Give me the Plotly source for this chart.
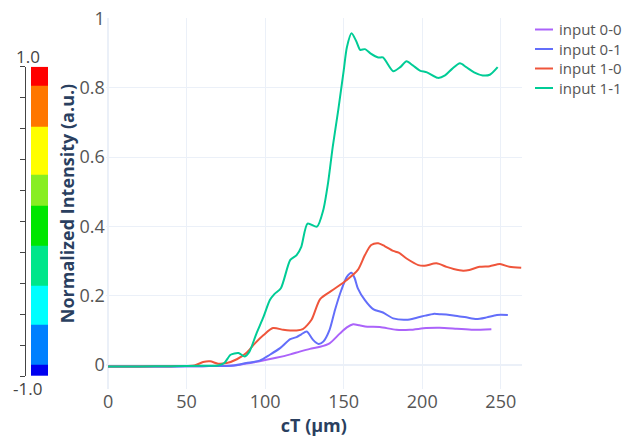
import plotly.graph_objects as go

# ---------------- data ----------------
series_names = ["input 0-0", "input 0-1", "input 1-0", "input 1-1"]
series_colors = ["#ab63fa", "#636efa", "#EF553B", "#00cc96"]

x_00 = [0, 20, 40, 60, 80, 86, 96.5, 107, 116, 122, 128.5, 135, 141, 147.5, 152, 156, 160, 165,
        173, 183.5, 192, 202.5, 211, 222, 232.5, 244]
y_00 = [-0.005, -0.005, -0.005, -0.004, -0.002, 0.002, 0.01, 0.02, 0.03, 0.038, 0.046, 0.052, 0.062,
        0.09, 0.108, 0.117, 0.114, 0.11, 0.109, 0.101, 0.101, 0.106, 0.107, 0.104, 0.101, 0.103]

x_01 = [0, 20, 40, 60, 80, 88, 96.5, 103, 109.5, 116, 120, 123, 126.5, 130.5, 134, 137, 141, 144.5,
        148.5, 152, 155, 157, 159, 163.5, 169, 175, 181.5, 190, 196.5, 202, 207, 212, 217.5, 223,
        228, 234.5, 241, 247.5, 254.5]
y_01 = [-0.005, -0.005, -0.005, -0.004, -0.002, 0.005, 0.012, 0.029, 0.048, 0.074, 0.08, 0.088, 0.096,
        0.072, 0.06, 0.067, 0.101, 0.159, 0.216, 0.254, 0.266, 0.25, 0.221, 0.187, 0.16, 0.151,
        0.134, 0.13, 0.136, 0.142, 0.147, 0.146, 0.144, 0.14, 0.137, 0.132, 0.137, 0.144, 0.144]

x_10 = [0, 20, 40, 55, 60.5, 65, 70, 75.5, 82, 88, 93.5, 99, 105, 111.5, 116, 120, 124, 129.5, 135,
        143, 152, 159, 163.5, 167.5, 172, 176, 181.5, 185, 190, 197.5, 201.5, 209, 215.5, 220, 226,
        230, 236.5, 243, 249.5, 255.5, 263]
y_10 = [-0.005, -0.005, -0.004, -0.002, 0.008, 0.01, 0.003, 0.005, 0.016, 0.034, 0.062, 0.086, 0.106,
        0.101, 0.099, 0.099, 0.103, 0.13, 0.19, 0.216, 0.245, 0.274, 0.317, 0.346, 0.351, 0.343,
        0.329, 0.324, 0.307, 0.288, 0.286, 0.293, 0.283, 0.277, 0.272, 0.274, 0.283, 0.285, 0.291,
        0.283, 0.28]

x_11 = [0, 20, 40, 60, 70, 74, 78, 83, 87, 90, 94.5, 99, 103, 106, 110, 116, 120, 123, 127, 133, 137,
        140, 143, 146.5, 150, 152, 155, 158, 160.5, 163.5, 167, 172, 175, 181.5, 186, 190, 194,
        198.5, 203, 210, 214.5, 219, 224, 228, 233, 238.5, 243, 248]
y_11 = [-0.005, -0.005, -0.004, -0.003, -0.002, 0.005, 0.029, 0.034, 0.024, 0.038, 0.091, 0.139, 0.187,
        0.205, 0.221, 0.303, 0.317, 0.341, 0.408, 0.399, 0.447, 0.524, 0.629, 0.735, 0.85, 0.917,
        0.958, 0.935, 0.91, 0.912, 0.90, 0.888, 0.888, 0.848, 0.86, 0.877, 0.865, 0.85, 0.845,
        0.829, 0.836, 0.855, 0.871, 0.86, 0.845, 0.836, 0.838, 0.86]

series_x = [x_00, x_01, x_10, x_11]
series_y = [y_00, y_01, y_10, y_11]

# colour bar (scale -1 .. 1), block edges from bottom to top and block colours
cbar_edges = [-1.0, -0.929, -0.670, -0.418, -0.159, 0.099, 0.300, 0.612, 0.875, 1.0]
cbar_colors = ["#0000f0", "#0080ff", "#00ffff", "#00e68a", "#00e600", "#88ee22",
               "#ffff00", "#ff7700", "#ff0000"]
cbar_ticks = [-1.0, -0.8, -0.6, -0.4, -0.2, 0.0, 0.2, 0.4, 0.6, 0.8, 1.0]
cbar_labels = ["-1.0", "1.0"]

x_ticks = [0, 50, 100, 150, 200, 250]
y_ticks = [0, 0.2, 0.4, 0.6, 0.8, 1]

# ---------------- figure ----------------
FONT = "Open Sans"
W, H = 630, 439
ml, mr, mt, mb = 5, 108, 18, 50
pw = W - ml - mr
ph = H - mt - mb


def px_x(p):                # pixel -> paper fraction
    return (p - ml) / pw


def px_y(p):
    return (H - mb - p) / ph


fig = go.Figure()

for name, col, xs, ys in zip(series_names, series_colors, series_x, series_y):
    fig.add_trace(go.Scatter(x=xs, y=ys, mode="lines", name=name, showlegend=False,
                             line=dict(color=col, width=2, shape="spline", smoothing=0.7)))

n = len(cbar_colors)
cscale = []
for i, c in enumerate(cbar_colors):
    cscale.append([i / n, c])
    cscale.append([(i + 1) / n, c])
fig.add_trace(go.Heatmap(
    x=[0, 1], y=cbar_edges, z=[[i + 0.5] for i in range(n)],
    zmin=0, zmax=n, colorscale=cscale, showscale=False,
    xaxis="x2", yaxis="y2", hoverinfo="skip", showlegend=False))

# legend: line swatches + one multi-line label block
LEG_FONT = 15
LEG_TOP, LEG_STEP = 29.5, LEG_FONT * 1.3
shapes = []
for i, col in enumerate(series_colors):
    yy = px_y(LEG_TOP + LEG_STEP * i)
    shapes.append(dict(type="line", xref="paper", yref="paper", x0=px_x(535), x1=px_x(553),
                       y0=yy, y1=yy, line=dict(color=col, width=2)))

annotations = [
    dict(text="<br>".join(series_names), xref="paper", yref="paper", x=px_x(557),
         y=px_y(LEG_TOP + LEG_STEP * (len(series_names) - 1) / 2),
         xanchor="left", yanchor="middle", align="left", showarrow=False,
         font=dict(size=LEG_FONT, color="#555555")),
    dict(text=cbar_labels[1], xref="paper", yref="y2", x=px_x(27.5), y=1.0,
         xanchor="center", yanchor="bottom", showarrow=False, yshift=-3,
         font=dict(size=17, color="#444444")),
    dict(text=cbar_labels[0], xref="paper", yref="y2", x=px_x(27.5), y=-1.0,
         xanchor="center", yanchor="top", showarrow=False, yshift=1,
         font=dict(size=17, color="#444444")),
]

fig.update_layout(
    template="plotly_white",
    width=W, height=H,
    margin=dict(l=ml, r=mr, t=mt, b=mb, autoexpand=False),
    showlegend=False,
    font=dict(family=FONT, size=18, color="#555555"),
    xaxis=dict(domain=[px_x(105.7), 1.0], range=[-1.5, 263.5], tickvals=x_ticks,
               title=dict(text="<b>cT (µm)</b>", font=dict(size=18, color="#2a3f5f"), standoff=6),
               tickfont=dict(size=18, color="#555555")),
    yaxis=dict(range=[-0.07, 1.002], tickvals=y_ticks,
               title=dict(text="<b>Normalized Intensity (a.u.)</b>", font=dict(size=18, color="#2a3f5f"),
                          standoff=0),
               tickfont=dict(size=18, color="#555555")),
    xaxis2=dict(domain=[px_x(31), px_x(48)], range=[0, 1], visible=False, anchor="y2"),
    yaxis2=dict(domain=[px_y(376), px_y(66.7)], range=[-1, 1], anchor="free",
                position=px_x(25), side="left", showline=True, linecolor="#444444", linewidth=1,
                ticks="outside", ticklen=5, tickcolor="#444444", tickvals=cbar_ticks,
                showticklabels=False, showgrid=False, zeroline=False),
    shapes=shapes,
    annotations=annotations,
)

fig.write_html("out.html", config={"displayModeBar": False},
               post_script="document.body.style.margin='0px';")
